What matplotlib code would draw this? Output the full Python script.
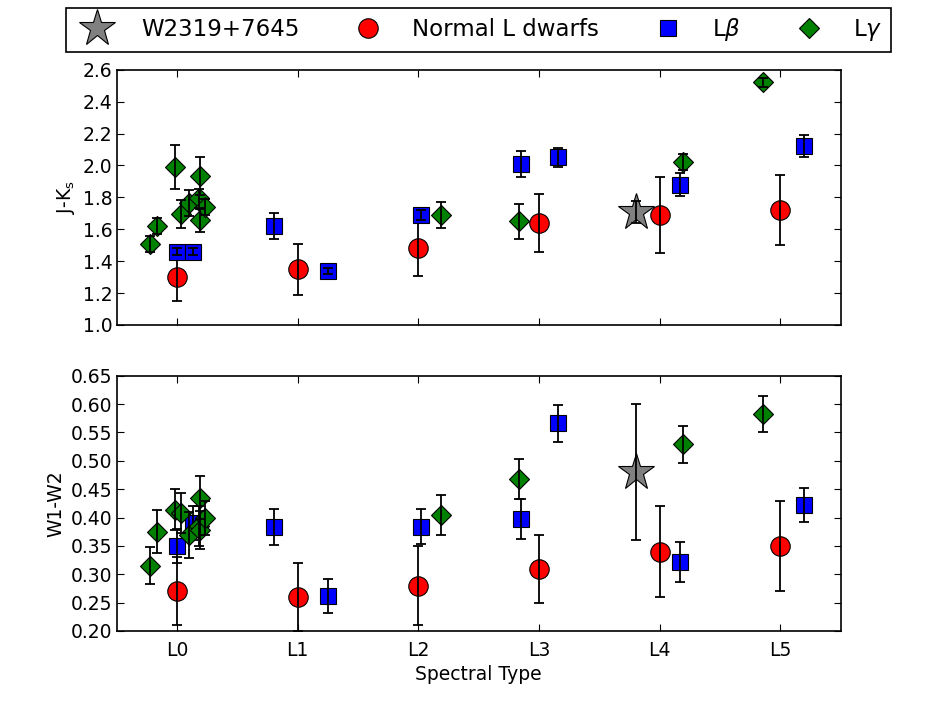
import matplotlib
matplotlib.use("Agg")
import matplotlib.pyplot as plt
from matplotlib.lines import Line2D
import numpy as np

# ---------------- data ----------------
spt_labels = ["L0", "L1", "L2", "L3", "L4", "L5"]
spt_ticks = [0, 1, 2, 3, 4, 5]

# Normal L dwarfs (red circles)
norm_x = [0, 1, 2, 3, 4, 5]
norm_jk = [1.30, 1.35, 1.48, 1.64, 1.69, 1.72]
norm_jk_err = [0.15, 0.16, 0.17, 0.18, 0.24, 0.22]
norm_w = [0.27, 0.26, 0.28, 0.31, 0.34, 0.35]
norm_w_err = [0.06, 0.06, 0.07, 0.06, 0.08, 0.08]

# L beta (blue squares)
beta_x = [0.0, 0.135, 0.8, 1.25, 2.02, 2.85, 3.16, 4.17, 5.2]
beta_jk = [1.46, 1.46, 1.62, 1.34, 1.69, 2.01, 2.05, 1.88, 2.12]
beta_jk_err = [0.02, 0.02, 0.08, 0.02, 0.03, 0.08, 0.06, 0.07, 0.07]
beta_w = [0.350, 0.391, 0.383, 0.262, 0.384, 0.397, 0.566, 0.322, 0.422]
beta_w_err = [0.030, 0.030, 0.032, 0.030, 0.031, 0.035, 0.033, 0.035, 0.030]

# L gamma (green diamonds)
gam_x = [-0.22, -0.17, -0.02, 0.03, 0.10, 0.18, 0.19, 0.19, 0.23, 2.19, 2.83, 4.19, 4.86]
gam_jk = [1.51, 1.62, 1.99, 1.695, 1.765, 1.795, 1.935, 1.655, 1.742, 1.69, 1.65, 2.02, 2.52]
gam_jk_err = [0.05, 0.05, 0.14, 0.09, 0.08, 0.06, 0.12, 0.07, 0.05, 0.08, 0.11, 0.05, 0.03]
gam_w = [0.315, 0.375, 0.414, 0.408, 0.369, 0.385, 0.435, 0.378, 0.400, 0.405, 0.468, 0.529, 0.582]
gam_w_err = [0.033, 0.038, 0.036, 0.035, 0.040, 0.035, 0.038, 0.033, 0.030, 0.035, 0.036, 0.032, 0.032]

# W2319+7645 (grey star)
star_x = [3.8]
star_jk = [1.71]
star_jk_err = [0.07]
star_w = [0.48]
star_w_err = [0.12]

# ---------------- style ----------------
plt.rcParams.update({
    "font.family": "DejaVu Sans",
    "font.size": 13.5,
    "xtick.direction": "in",
    "ytick.direction": "in",
    "xtick.top": True,
    "ytick.right": True,
    "xtick.major.size": 5,
    "ytick.major.size": 5,
    "xtick.major.pad": 7,
    "ytick.major.pad": 3,
    "axes.linewidth": 1.2,
    "mathtext.default": "it",
})

fig = plt.figure(figsize=(9.34, 7.01), dpi=100)
fig.patch.set_facecolor("white")
W, H = 934.0, 701.0
left = 116.7 / W
width = (840.7 - 116.7) / W
ax1 = fig.add_axes([left, 1 - 325.0 / H, width, (325.0 - 69.7) / H])
ax2 = fig.add_axes([left, 1 - 631.0 / H, width, (631.0 - 375.7) / H])

series = [
    # (x, jk, jkerr, w, werr, marker, size, color, zorder)
    (norm_x, norm_jk, norm_jk_err, norm_w, norm_w_err, "o", 14, "red", 3),
    (beta_x, beta_jk, beta_jk_err, beta_w, beta_w_err, "s", 11, "blue", 4),
    (gam_x, gam_jk, gam_jk_err, gam_w, gam_w_err, "D", 10, "green", 5),
    (star_x, star_jk, star_jk_err, star_w, star_w_err, "*", 28, "gray", 6),
]

for ax, idx in ((ax1, 1), (ax2, 3)):
    for s in series:
        x = s[0]
        y = s[idx]
        e = s[idx + 1]
        mk, ms, col, z = s[5], s[6], s[7], s[8]
        ax.plot(x, y, linestyle="none", marker=mk, markersize=ms,
                markerfacecolor=col, markeredgecolor="black",
                markeredgewidth=0.8, zorder=z)
        ax.errorbar(x, y, yerr=e, fmt="none", ecolor="black",
                    elinewidth=1.3, capsize=3.6, capthick=1.3, zorder=z + 0.1)
    ax.set_xlim(-0.5, 5.5)
    ax.set_xticks(spt_ticks)

ax1.set_ylim(1.0, 2.6)
ax1.set_yticks(np.arange(1.0, 2.61, 0.2))
ax1.yaxis.set_major_formatter(matplotlib.ticker.FormatStrFormatter("%.1f"))
ax1.set_xticklabels([])
ax1.set_ylabel(r"J-K$_\mathrm{s}$")

ax2.set_ylim(0.20, 0.65)
ax2.set_yticks(np.arange(0.20, 0.651, 0.05))
ax2.yaxis.set_major_formatter(matplotlib.ticker.FormatStrFormatter("%.2f"))
ax2.set_xticklabels(spt_labels)
ax2.set_xlabel("Spectral Type")
ax2.set_ylabel("W1-W2")

handles = [
    Line2D([], [], linestyle="none", marker="*", markersize=28,
           markerfacecolor="gray", markeredgecolor="black", markeredgewidth=0.8),
    Line2D([], [], linestyle="none", marker="o", markersize=14,
           markerfacecolor="red", markeredgecolor="black", markeredgewidth=0.8),
    Line2D([], [], linestyle="none", marker="s", markersize=11,
           markerfacecolor="blue", markeredgecolor="black", markeredgewidth=0.8),
    Line2D([], [], linestyle="none", marker="D", markersize=10,
           markerfacecolor="green", markeredgecolor="black", markeredgewidth=0.8),
]
labels = ["W2319+7645", "Normal L dwarfs", r"L$\beta$", r"L$\gamma$"]
leg = fig.legend(handles, labels, loc="upper center",
                 bbox_to_anchor=(478.4 / W, 1 - 7.7 / H),
                 ncol=4, fontsize=16.5, numpoints=1, frameon=True,
                 fancybox=False, edgecolor="black", framealpha=1,
                 handlelength=2.0, handletextpad=0.92, columnspacing=2.0,
                 borderpad=0.37, borderaxespad=0.0)
leg.get_frame().set_linewidth(1.2)

fig.savefig("out.png", dpi=100, facecolor="white")
